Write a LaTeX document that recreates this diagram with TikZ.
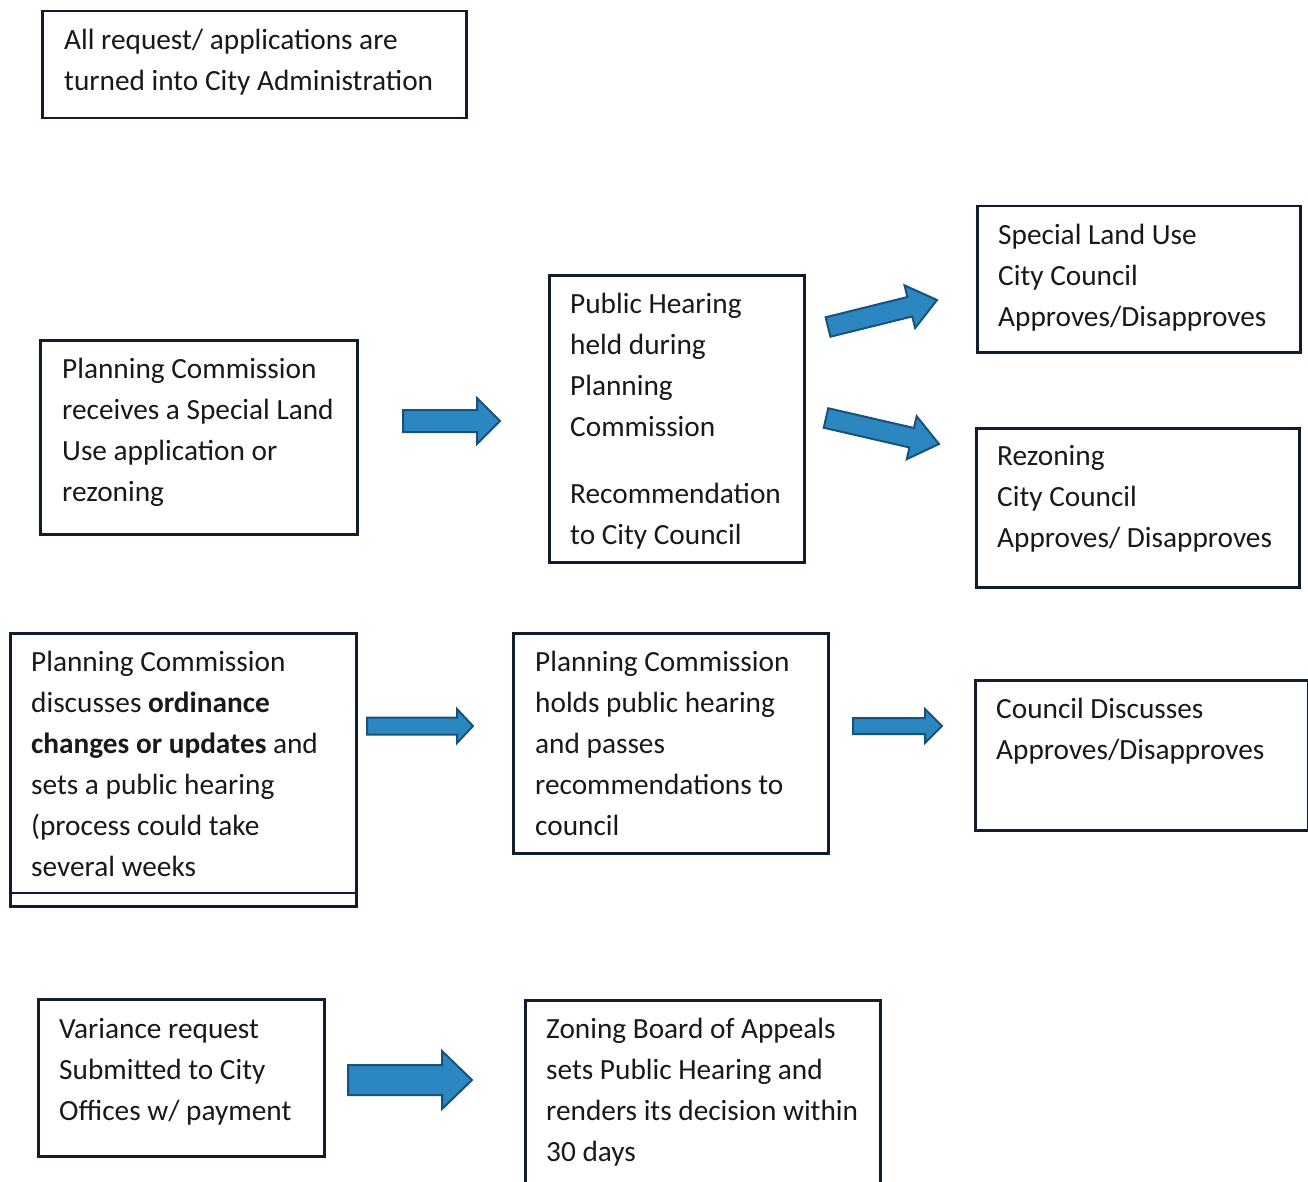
\documentclass[tikz,border=0pt]{standalone}
\usepackage{fontspec}
\setmainfont{Carlito}
\usetikzlibrary{calc}
\definecolor{boxline}{RGB}{18,28,48}
\definecolor{arrfill}{RGB}{44,135,192}
\definecolor{arrline}{RGB}{24,82,124}
\definecolor{txt}{RGB}{25,25,25}
\tikzset{
  boxframe/.style={draw=boxline, line width=2.5pt, inner sep=0pt, anchor=north west},
  boxtext/.style={anchor=base west, inner sep=0pt, text=txt, font=\fontsize{29.3}{41}\selectfont},
  barrow/.style={fill=arrfill, draw=arrline, line width=2pt, line join=miter},
}
% block arrow from coordinate #1 (tail) to #2 (tip); #3 shaft half width, #4 head half width, #5 head length
\newcommand{\blockarr}[5]{%
  \coordinate (#1-#2-c) at ($(#2)!#5!(#1)$);
  \draw[barrow] ($(#1)!#3!90:(#2)$) -- ($(#1-#2-c)!#3!90:(#2)$) -- ($(#1-#2-c)!#4!90:(#2)$)
    -- (#2) -- ($(#1-#2-c)!#4!-90:(#2)$) -- ($(#1-#2-c)!#3!-90:(#2)$) -- ($(#1)!#3!-90:(#2)$) -- cycle;}
\newcommand{\bxt}[2]{\parbox[t]{#1pt}{\raggedright #2}}
\begin{document}
\begin{tikzpicture}[x=1pt,y=-1pt]
\clip (0,0) rectangle (1308,1182);
\fill[white] (0,0) rectangle (1308,1182);

% boxes
\node[boxframe, minimum width=424pt, minimum height=107pt] (b1) at (41,10) {};
\node[boxtext] (t1) at (64,50) {\bxt{400}{All request/ applications are\\turned into City Administration}};

\node[boxframe, minimum width=317pt, minimum height=194pt] (b2) at (39,339) {};
\node[boxtext] (t2) at (62,378) {\bxt{290}{Planning Commission\\receives a Special Land\\Use application or\\rezoning}};

\node[boxframe, minimum width=255pt, minimum height=287pt] (b3) at (548,274) {};
\node[boxtext] (t3) at (570,313) {\bxt{230}{Public Hearing\\held during\\Planning\\Commission\\[26pt]Recommendation\\to City Council}};

\node[boxframe, minimum width=323pt, minimum height=146pt] (b4) at (976,205) {};
\node[boxtext] (t4) at (998,244) {\bxt{300}{Special Land Use\\City Council\\Approves/Disapproves}};

\node[boxframe, minimum width=323pt, minimum height=159pt] (b5) at (975,427) {};
\node[boxtext] (t5) at (997,465) {\bxt{300}{Rezoning\\City Council\\Approves/ Disapproves}};

\node[boxframe, minimum width=346pt, minimum height=273pt] (b6) at (9,632) {};
\draw[draw=boxline, line width=1.5pt] (b6.west |- 0,893) -- (b6.east |- 0,893);
\node[boxtext] (t6) at (31,671) {\bxt{320}{Planning Commission\\discusses \textbf{ordinance}\\\textbf{changes or updates} and\\sets a public hearing\\(process could take\\several weeks}};

\node[boxframe, minimum width=315pt, minimum height=220pt] (b7) at (512,632) {};
\node[boxtext] (t7) at (535,671) {\bxt{290}{Planning Commission\\holds public hearing\\and passes\\recommendations to\\council}};

\node[boxframe, minimum width=333pt, minimum height=150pt] (b8) at (974,679) {};
\node[boxtext] (t8) at (996,718) {\bxt{310}{Council Discusses\\Approves/Disapproves}};

\node[boxframe, minimum width=286pt, minimum height=157pt] (b9) at (37,998) {};
\node[boxtext] (t9) at (59,1038) {\bxt{260}{Variance request\\Submitted to City\\Offices w/ payment}};

\node[boxframe, minimum width=355pt, minimum height=200pt] (b10) at (524,999) {};
\node[boxtext] (t10) at (546,1038) {\bxt{330}{Zoning Board of Appeals\\sets Public Hearing and\\renders its decision within\\30 days}};

% arrow end points
\coordinate (a1s) at (403,421);  \coordinate (a1e) at (500,421);
\coordinate (a2s) at (828,327);  \coordinate (a2e) at (937,300);
\coordinate (a3s) at (826,418);  \coordinate (a3e) at (939,444);
\coordinate (a4s) at (367,726);  \coordinate (a4e) at (473,726);
\coordinate (a5s) at (853,726);  \coordinate (a5e) at (942,726);
\coordinate (a6s) at (348,1080); \coordinate (a6e) at (472,1080);

\blockarr{a1s}{a1e}{11pt}{23pt}{23pt}
\blockarr{a2s}{a2e}{10pt}{22pt}{28pt}
\blockarr{a3s}{a3e}{10pt}{22pt}{28pt}
\blockarr{a4s}{a4e}{8.5pt}{17pt}{16pt}
\blockarr{a5s}{a5e}{8pt}{17pt}{17pt}
\blockarr{a6s}{a6e}{15pt}{29pt}{30pt}
\end{tikzpicture}
\end{document}
